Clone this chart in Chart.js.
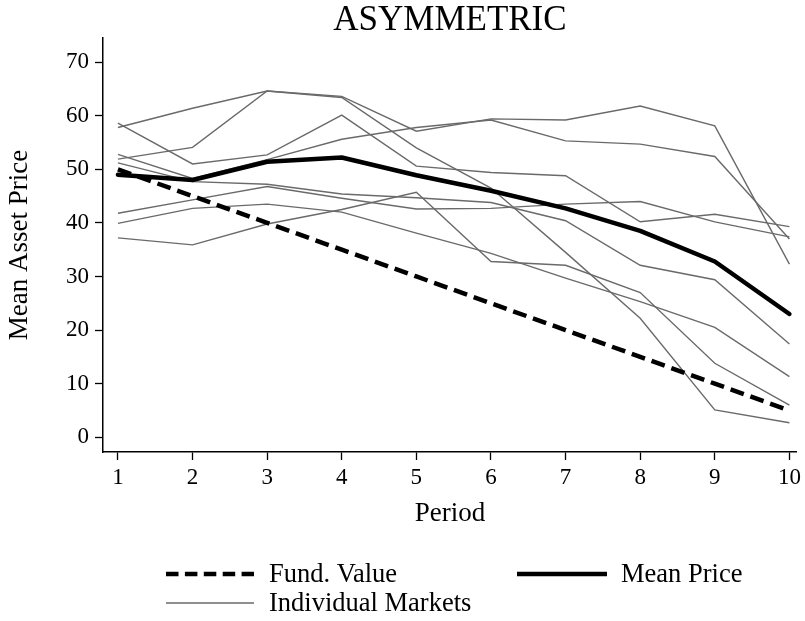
<!DOCTYPE html>
<html>
<head>
<meta charset="utf-8">
<script src="https://cdn.jsdelivr.net/npm/chart.js@4.4.1/dist/chart.umd.min.js"></script>
<style>
  html, body { margin: 0; padding: 0; background: #fff; }
  #wrap { width: 805px; height: 621px; }
</style>
</head>
<body>
<div id="wrap"><canvas id="c" width="805" height="621"></canvas></div>
<script>
// Periods of the experiment and the y-axis tick values
const periods = [1, 2, 3, 4, 5, 6, 7, 8, 9, 10];
const yTickValues = [0, 10, 20, 30, 40, 50, 60, 70];

// Fundamental value and the average price across markets
const fundValue = [50, 45, 40, 35, 30, 25, 20, 15, 10, 5];
const meanPrice = [49.0, 48.0, 51.4, 52.2, 48.9, 46.0, 42.7, 38.5, 32.8, 23.0];

// Mean asset price in each individual market
const market1 = [57.8, 61.4, 64.6, 63.6, 57.1, 59.4, 59.2, 61.8, 58.1, 32.3];
const market2 = [58.6, 51.0, 52.7, 60.1, 50.6, 49.4, 48.8, 40.2, 41.6, 39.3];
const market3 = [51.9, 54.1, 64.6, 63.4, 54.0, 46.5, 34.5, 22.2, 5.1, 2.7];
const market4 = [52.8, 48.3, 51.8, 55.6, 57.8, 59.2, 55.3, 54.7, 52.4, 37.0];
const market5 = [51.2, 47.7, 47.2, 45.4, 44.7, 43.8, 40.4, 32.1, 29.4, 17.4];
const market6 = [41.8, 44.3, 46.8, 44.6, 42.6, 42.7, 43.5, 44.0, 40.2, 37.4];
const market7 = [39.9, 42.7, 43.5, 42.0, 38.1, 34.3, 29.7, 25.3, 20.5, 11.3];
const market8 = [37.2, 35.9, 39.8, 42.5, 45.7, 32.8, 32.1, 27.0, 13.8, 6.0];
const markets = [market1, market2, market3, market4, market5, market6, market7, market8];

const SERIF = "'Liberation Serif', 'DejaVu Serif', serif";
const INK = '#000';
const MARKET_GREY = '#6a6a6a';

const toPoints = vals => vals.map((v, i) => ({ x: periods[i], y: v }));

const datasets = [
  { label: 'Mean Price', data: toPoints(meanPrice), borderColor: INK, borderWidth: 4.5,
    borderCapStyle: 'round', borderJoinStyle: 'round' },
  { label: 'Fund. Value', data: toPoints(fundValue), borderColor: INK, borderWidth: 4.5,
    borderDash: [14, 7] },
  ...markets.map((m, i) => ({
    label: i === 0 ? 'Individual Markets' : 'Market ' + (i + 1),
    data: toPoints(m), borderColor: MARKET_GREY, borderWidth: 1.4
  }))
];

// Two-row key below the plot: dashed, thick and thin line samples with labels
const keyEntries = [
  { text: 'Fund. Value', dataset: 1, x0: 166, x1: 254, y: 574, textX: 269, dash: [12.5, 6.4] },
  { text: 'Mean Price', dataset: 0, x0: 517, x1: 607, y: 574, textX: 621, dash: [] },
  { text: 'Individual Markets', dataset: 2, x0: 166, x1: 254, y: 603, textX: 269, dash: [] }
];

const keyPlugin = {
  id: 'keyRows',
  afterDraw(chart) {
    const ctx = chart.ctx;
    ctx.save();
    keyEntries.forEach(e => {
      const ds = chart.data.datasets[e.dataset];
      ctx.beginPath();
      ctx.setLineDash(e.dash);
      ctx.lineWidth = ds.borderWidth;
      ctx.strokeStyle = ds.borderColor;
      ctx.lineCap = 'butt';
      ctx.moveTo(e.x0, e.y);
      ctx.lineTo(e.x1, e.y);
      ctx.stroke();
      ctx.setLineDash([]);
      ctx.fillStyle = INK;
      ctx.font = '26.5px ' + SERIF;
      ctx.textBaseline = 'middle';
      ctx.textAlign = 'left';
      ctx.fillText(e.text, e.textX, e.y + 1);
    });
    ctx.restore();
  }
};

new Chart(document.getElementById('c'), {
  type: 'line',
  data: { datasets },
  plugins: [keyPlugin],
  options: {
    responsive: false,
    animation: false,
    layout: { padding: { left: 0, right: 5, top: 0, bottom: 79 } },
    elements: { point: { radius: 0 }, line: { tension: 0 } },
    plugins: {
      legend: { display: false },
      tooltip: { enabled: false },
      title: {
        display: true, text: 'ASYMMETRIC', fullSize: false, color: INK,
        font: { family: SERIF, size: 35, weight: 'normal', lineHeight: 1.0 },
        padding: { top: 3, bottom: 0 }
      }
    },
    scales: {
      x: {
        type: 'linear', min: 0.8, max: 10.1,
        afterBuildTicks: s => { s.ticks = periods.map(v => ({ value: v })); },
        afterFit: s => { s.height = 90; },
        grid: { drawOnChartArea: false, drawTicks: true, tickLength: 8, color: INK, tickWidth: 1.3 },
        border: { display: true, color: INK, width: 1.5 },
        ticks: { color: INK, font: { family: SERIF, size: 23 }, padding: 4, maxRotation: 0, autoSkip: false },
        title: { display: true, text: 'Period', color: INK, font: { family: SERIF, size: 27 }, padding: { top: 0, bottom: 12 } }
      },
      y: {
        type: 'linear', min: -2.75, max: 74.5,
        afterBuildTicks: s => { s.ticks = yTickValues.map(v => ({ value: v })); },
        afterFit: s => { s.width = 103; },
        grid: { drawOnChartArea: false, drawTicks: true, tickLength: 8, color: INK, tickWidth: 1.3 },
        border: { display: true, color: INK, width: 1.5 },
        ticks: { color: INK, font: { family: SERIF, size: 23 }, padding: 6 },
        title: { display: true, text: 'Mean Asset Price', color: INK, font: { family: SERIF, size: 27 }, padding: { top: 4, bottom: 0 } }
      }
    }
  }
});
</script>
</body>
</html>
